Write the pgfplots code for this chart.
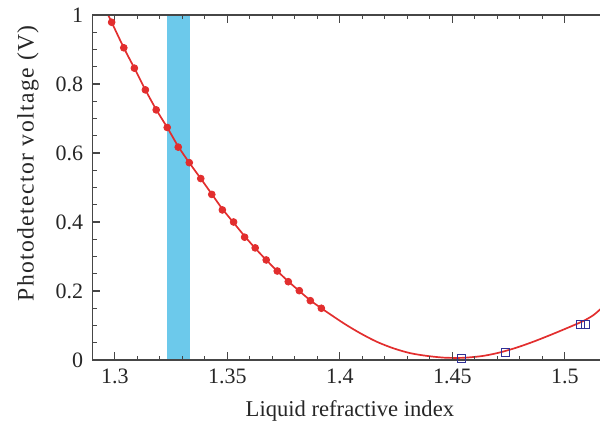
\documentclass[border=0pt]{standalone}
\usepackage{fontspec}
\setmainfont{Liberation Serif}
\newfontfamily\ylabfont[LetterSpace=6]{Liberation Serif}
\usepackage{pgfplots}
\pgfplotsset{compat=1.18}

\definecolor{curvered}{RGB}{226,46,46}
\definecolor{bandblue}{RGB}{108,201,235}
\definecolor{sqblue}{RGB}{48,48,150}
\definecolor{axisgray}{RGB}{70,70,70}

\begin{document}
\begin{tikzpicture}
\useasboundingbox (-46.15pt,-32.5pt) rectangle (253.85pt,180pt);
\clip (-46.15pt,-32.5pt) rectangle (253.85pt,180pt);
\begin{axis}[
  at={(0pt,0pt)}, anchor=south west,
  scale only axis,
  width=270pt, height=172.5pt,
  xmin=1.29, xmax=1.53, ymin=0, ymax=1,
  axis on top,
  clip=true,
  xtick={1.3,1.35,1.4,1.45,1.5},
  xticklabels={1.3,1.35,1.4,1.45,1.5},
  ytick={0,0.2,0.4,0.6,0.8,1},
  yticklabels={0,0.2,0.4,0.6,0.8,1},
  minor x tick num=4, minor y tick num=3,
  tick align=inside,
  major tick length=4pt, minor tick length=2.2pt,
  axis line style={draw=axisgray, line width=0.6pt},
  every tick/.style={axisgray, line width=0.6pt},
  tick label style={font=\fontsize{11}{13}\selectfont, text=black!85},
  xticklabel style={yshift=-1pt},
  yticklabel style={xshift=-1pt},
  xlabel={Liquid refractive index},
  ylabel={\ylabfont Photodetector voltage (V)},
  xlabel style={at={(axis description cs:0.477,-0.148)}, anchor=center,
    font=\fontsize{11.3}{13}\selectfont, text=black!85},
  ylabel style={at={(axis description cs:-0.119,0.57)}, anchor=center,
    rotate=0, font=\fontsize{11.8}{13}\selectfont, text=black!85},
]
% water refractive index range
\addplot [fill=bandblue, draw=none] coordinates {
  (1.3232,0) (1.3333,0) (1.3333,1) (1.3232,1)} -- cycle;

% fitted response curve
\addplot [curvered, line width=0.85pt, smooth, no marks] coordinates {
  (1.2956,1.020) (1.2986,0.979) (1.3040,0.905) (1.3087,0.846) (1.3136,0.783)
  (1.3184,0.726) (1.3233,0.674) (1.3282,0.619) (1.3331,0.572) (1.3382,0.526)
  (1.3431,0.481) (1.3478,0.438) (1.3528,0.398) (1.3577,0.359) (1.3624,0.324)
  (1.3673,0.290) (1.3722,0.258) (1.3771,0.228) (1.3820,0.200) (1.3869,0.173)
  (1.3918,0.150) (1.4016,0.107) (1.4090,0.078) (1.4164,0.053) (1.4238,0.034)
  (1.4312,0.020) (1.4386,0.012) (1.4460,0.007) (1.4520,0.006) (1.4564,0.007)
  (1.4638,0.012) (1.4712,0.022) (1.4786,0.036) (1.4860,0.053) (1.4934,0.072)
  (1.5008,0.092) (1.5082,0.113) (1.5127,0.130) (1.5156,0.146) (1.5200,0.170)
};

% measured calibration points
\addplot [only marks, mark=*, mark size=1.7pt, color=curvered] coordinates {
  (1.2986,0.979) (1.3040,0.905) (1.3087,0.846) (1.3136,0.783) (1.3184,0.725)
  (1.3233,0.674) (1.3282,0.617) (1.3331,0.572) (1.3382,0.526) (1.3431,0.480)
  (1.3478,0.435) (1.3528,0.400) (1.3577,0.356) (1.3624,0.325) (1.3673,0.290)
  (1.3722,0.258) (1.3771,0.227) (1.3820,0.201) (1.3869,0.172) (1.3918,0.150)
};

% test liquids
\addplot [only marks, mark=square, mark size=2pt, color=sqblue, line width=0.6pt]
  coordinates {(1.4542,0.005) (1.4736,0.022) (1.5071,0.103) (1.5093,0.103)};
\end{axis}
\end{tikzpicture}
\end{document}
